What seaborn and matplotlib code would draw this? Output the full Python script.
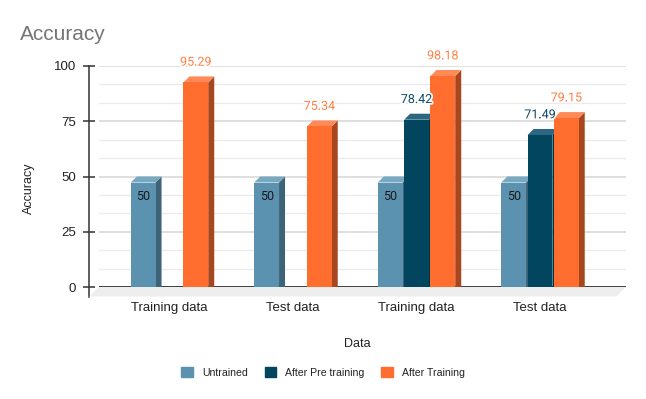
import numpy as np
import pandas as pd
import matplotlib
matplotlib.use("Agg")
import matplotlib.pyplot as plt
import matplotlib.transforms as mtransforms
import matplotlib.patheffects as pe
from matplotlib.patches import Polygon, Patch
from matplotlib.ticker import MultipleLocator
import seaborn as sns

# ---------------- data ----------------
categories = ["Training data", "Test data", "Training data", "Test data"]
series = ["Untrained", "After Pre training", "After Training"]
untrained = [50, 50, 50, 50]
after_pre = [np.nan, np.nan, 78.42, 71.49]
after_train = [95.29, 75.34, 98.18, 79.15]
y_ticks = [0, 25, 50, 75, 100]

# ---------------- style ----------------
front_col = {"Untrained": "#5b92b0", "After Pre training": "#02455f", "After Training": "#ff6d2f"}
side_col = {"Untrained": "#3d6376", "After Pre training": "#013347", "After Training": "#a8461e"}
top_col = {"Untrained": "#79a8c1", "After Pre training": "#2d6680", "After Training": "#ff8a57"}
label_col = {"Untrained": "#1a1a1a", "After Pre training": "#0d4a66", "After Training": "#ff7f45"}

sns.set_style("white")
plt.rcParams["font.family"] = ["Liberation Sans", "DejaVu Sans"]

rows = []
for i, c in enumerate(categories):
    for s, vals in zip(series, [untrained, after_pre, after_train]):
        if not np.isnan(vals[i]):
            rows.append({"group": i, "series": s, "value": vals[i]})
df = pd.DataFrame(rows)

W, H = 646, 399
fig = plt.figure(figsize=(W / 100, H / 100), dpi=100)
ax = fig.add_axes([98.7 / W, (H - 287) / H, (626 - 98.7) / W, (287 - 66) / H])

sns.barplot(data=df, x="group", y="value", hue="series", hue_order=series,
            order=[0, 1, 2, 3], palette=front_col, saturation=1, width=0.64,
            gap=0.06, errorbar=None, legend=False, linewidth=0, ax=ax)

x0 = (98.7 - 169.5) / 123.5
XLIM = (x0, x0 + 527.3 / 123.5)
ax.set_xlim(*XLIM)
ax.set_ylim(0, 100)

# axes styling
for sp in ["top", "right", "bottom"]:
    ax.spines[sp].set_visible(False)
ax.spines["left"].set_position(("outward", 7.2))
ax.spines["left"].set_bounds(-4.3, 100)
ax.spines["left"].set_color("#333333")
ax.spines["left"].set_linewidth(1.1)
ax.set_yticks(y_ticks)
ax.yaxis.set_minor_locator(MultipleLocator(25 / 3))
ax.tick_params(axis="y", which="major", left=True, direction="inout", length=8.6, width=1.1,
               color="#333333", pad=4.8, labelsize=9.5, labelcolor="#222222")
ax.tick_params(axis="y", which="minor", left=False, length=0)
ax.set_xticks(range(len(categories)))
ax.set_xticklabels(categories)
ax.tick_params(axis="x", bottom=False, length=0, pad=10.5, labelsize=9.5, labelcolor="#222222")
ax.set_xlabel("")
ax.set_ylabel("")
ax.grid(True, axis="y", which="major", color="#d9d9d9", lw=1.2)
ax.grid(True, axis="y", which="minor", color="#ebebeb", lw=1.0)
ax.set_axisbelow(True)
ax.axhline(0, color="#333333", lw=1.3, zorder=2)

ident = mtransforms.IdentityTransform()

# floor
bl = ax.transAxes.transform((0, 0))
br = ax.transAxes.transform((1, 0))
FD = 9.5
floor = Polygon([bl, br, (br[0] - FD, br[1] - FD), (bl[0] - FD, bl[1] - FD)], closed=True,
                transform=ident, facecolor="#eeeeee", edgecolor="none", zorder=1, clip_on=False)
fig.add_artist(floor)

# 3D bars
DX, DY = 6, 6
shift = mtransforms.Affine2D().translate(0, -DY)
bars = []
for cont, s in zip(ax.containers, series):
    for p in cont.patches:
        if np.isnan(p.get_height()):
            continue
        bars.append((p.get_x(), p, s))
bars.sort(key=lambda t: t[0])

for k, (_, p, s) in enumerate(bars):
    x, w, h = p.get_x(), p.get_width(), p.get_height()
    (xl, yb), (xr, yt) = ax.transData.transform([(x, 0), (x + w, h)])
    yb -= DY
    yt -= DY
    z = 3 + 3 * k
    p.set_transform(ax.transData + shift)
    p.set_clip_on(False)
    p.set_zorder(z + 2)
    p.set_linewidth(0)
    sidep = Polygon([(xr, yb), (xr + DX, yb + DY), (xr + DX, yt + DY), (xr, yt)], closed=True,
                    transform=ident, facecolor=side_col[s], edgecolor="none", zorder=z, clip_on=False)
    topp = Polygon([(xl, yt), (xr, yt), (xr + DX, yt + DY), (xl + DX, yt + DY)], closed=True,
                   transform=ident, facecolor=top_col[s], edgecolor="none", zorder=z + 1, clip_on=False)
    ax.add_artist(sidep)
    ax.add_artist(topp)
    if s == "Untrained":
        off = -14.4
        effects = []
    else:
        off = 10.2
        effects = [pe.withStroke(linewidth=2.5, foreground="white")]
    ax.annotate(f"{h:g}", xy=(x + w / 2, h), xytext=(0, off), textcoords="offset points",
                ha="center", va="center", fontsize=9, color=label_col[s],
                family=["Roboto", "DejaVu Sans"], zorder=100, annotation_clip=False,
                path_effects=effects)

ax.set_xlim(*XLIM)
ax.set_ylim(0, 100)

# titles
fig.text(20 / W, 1 - 40 / H, "Accuracy", fontsize=15, color="#757575", ha="left", va="baseline")
fig.text(357.2 / W, 1 - 344 / H, "Data", fontsize=9, color="#222222", ha="center", va="center")
fig.text(28.5 / W, 1 - 188 / H, "Accuracy", fontsize=9, color="#222222", ha="center",
         va="center", rotation=90)

# legend
handles = [Patch(facecolor=front_col[s], edgecolor=front_col[s], linewidth=1.0,
                 joinstyle="round", label=s) for s in series]
fig.legend(handles=handles, loc="center", bbox_to_anchor=(0.5, 1 - 372.3 / H), ncol=3,
           frameon=False, fontsize=7.6, handlelength=1.1, handleheight=1.1,
           handletextpad=0.85, columnspacing=1.6, borderpad=0, labelcolor="#222222")

fig.savefig("out.png", dpi=100)
